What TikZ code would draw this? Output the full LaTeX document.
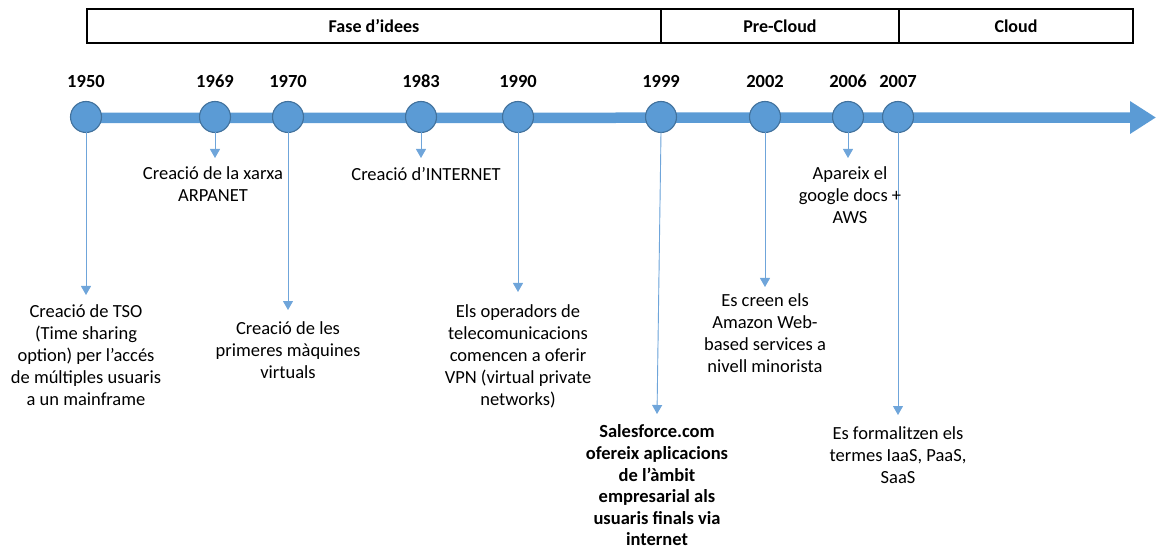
\documentclass[tikz,border=0pt]{standalone}
\usepackage{fontspec}
\setmainfont{Carlito}
\usetikzlibrary{arrows.meta}
\definecolor{tlblue}{HTML}{5B9BD5}
\definecolor{tledge}{HTML}{41719C}
\definecolor{connblue}{HTML}{6FA5DA}
\begin{document}
\begin{tikzpicture}[x=1pt,y=-1pt,
  every node/.style={inner sep=0pt, outer sep=0pt},
  phase/.style={draw=black, line width=1.2pt, minimum height=34pt, font=\fontsize{18}{22}\selectfont\bfseries},
  dot/.style={circle, fill=tlblue, draw=tledge, line width=1.1pt, minimum width=31pt, minimum height=31pt},
  year/.style={font=\fontsize{18.5}{22}\selectfont\bfseries},
  desc/.style={align=center, anchor=north, font=\fontsize{18.5}{22}\selectfont},
  descb/.style={desc, font=\fontsize{18.5}{21.6}\selectfont\bfseries},
  connline/.style={draw=connblue, line width=0.9pt, -{Triangle[width=10pt,length=9pt]}, fill=connblue}
]
\useasboundingbox (0,0) rectangle (1156,553);
% phase boxes
\node[phase, minimum width=574pt] (fase) at (374,26) {Fase d’idees};
\node[phase, minimum width=238pt] (pre) at (780,26) {Pre-Cloud};
\node[phase, minimum width=234pt] (cloud) at (1016,26) {Cloud};
% timeline arrow
\coordinate (tip) at (1156,117.5);
\coordinate (start) at (86,118);
\draw[tlblue, line width=10.5pt, -{Triangle[width=31pt,length=26pt]}] (start) -- (tip);
% dots
\node[dot] (d1950) at (86,117) {};
\node[dot] (d1969) at (215,117) {};
\node[dot] (d1970) at (288,117) {};
\node[dot] (d1983) at (421,117) {};
\node[dot] (d1990) at (518,117) {};
\node[dot] (d1999) at (661,117) {};
\node[dot] (d2002) at (765,117) {};
\node[dot] (d2006) at (848,117) {};
\node[dot] (d2007) at (898,117) {};
% years
\node[year] (y1950) at (86,81) {1950};
\node[year] (y1969) at (215,81) {1969};
\node[year] (y1970) at (288,81) {1970};
\node[year] (y1983) at (421,81) {1983};
\node[year] (y1990) at (518,81) {1990};
\node[year] (y1999) at (661,81) {1999};
\node[year] (y2002) at (765,81) {2002};
\node[year] (y2006) at (848,81) {2006};
\node[year] (y2007) at (898,81) {2007};
% arrow tips
\coordinate (t1950) at (86,295);
\coordinate (t1969) at (215,158);
\coordinate (t1970) at (288,310);
\coordinate (t1983) at (421,158);
\coordinate (t1990) at (518,292);
\coordinate (t1999) at (657,414);
\coordinate (t2002) at (765,287);
\coordinate (t2006) at (848,158);
\coordinate (t2007) at (898,415);
\foreach \y in {1950,1969,1970,1983,1990,1999,2002,2006,2007}
  \draw[connline] (d\y.south) -- (t\y);
% descriptions
\node[desc] (e1950) at (86,305) {Creació de TSO\\(Time sharing\\option) per l’accés\\de múltiples usuaris\\a un mainframe};
\node[desc] (e1969) at (213,167) {Creació de la xarxa\\ARPANET};
\node[desc] (e1970) at (288,322) {Creació de les\\primeres màquines\\virtuals};
\node[desc] (e1983) at (426,167) {Creació d’INTERNET};
\node[desc] (e1990) at (518,305) {Els operadors de\\telecomunicacions\\comencen a oferir\\VPN (virtual private\\networks)};
\node[descb] (e1999) at (657,425) {Salesforce.com\\ofereix aplicacions\\de l’àmbit\\empresarial als\\usuaris finals via\\internet};
\node[desc] (e2002) at (765,294) {Es creen els\\Amazon Web-\\based services a\\nivell minorista};
\node[desc] (e2006) at (850,167) {Apareix el\\google docs +\\AWS};
\node[desc] (e2007) at (898,427) {Es formalitzen els\\termes IaaS, PaaS,\\SaaS};
\end{tikzpicture}
\end{document}
